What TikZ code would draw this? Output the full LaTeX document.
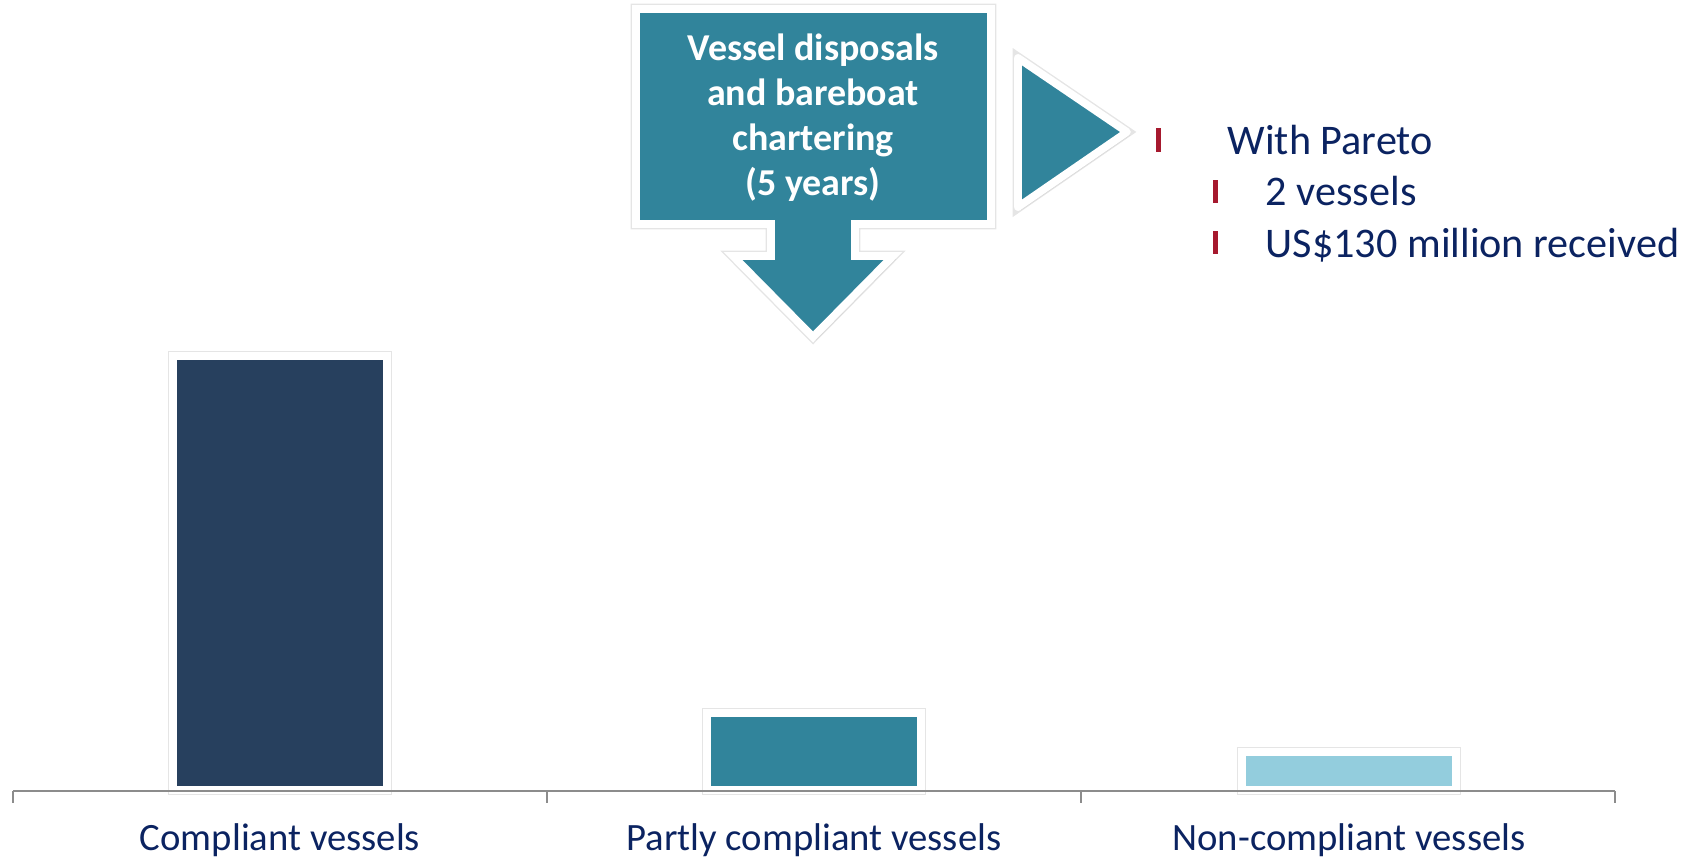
\documentclass[tikz,border=0pt]{standalone}
\usepackage{fontspec}
\setmainfont{Carlito}
\usetikzlibrary{shadows}

\definecolor{navytext}{HTML}{0B2361}
\definecolor{darkbar}{HTML}{27405E}
\definecolor{tealbar}{HTML}{31849B}
\definecolor{lightbar}{HTML}{93CDDD}
\definecolor{bulletred}{HTML}{A6192E}
\definecolor{axisgray}{HTML}{8C8C8C}

\tikzset{
  framed/.style={draw=white, line width=2.2pt, line join=miter,
    preaction={draw=black!10, line width=3pt},
    drop shadow={shadow xshift=0.9pt, shadow yshift=-0.9pt, opacity=0.15}},
  callouttext/.style={text=white, align=center,
    font=\fontsize{10.8}{12.8}\selectfont\bfseries},
  bullettext/.style={anchor=base west, text=navytext, inner sep=0pt,
    font=\fontsize{12}{14}\selectfont},
  catlabel/.style={anchor=base, text=navytext, inner sep=0pt,
    font=\fontsize{11}{13}\selectfont},
}

\begin{document}
\begin{tikzpicture}[x=0.01cm, y=-0.01cm]
  \useasboundingbox (0,0) rectangle (1700,858);

  % bars
  \filldraw[framed, fill=darkbar]  (173,356) rectangle (387,790);
  \filldraw[framed, fill=tealbar]  (707,713) rectangle (921,790);
  \filldraw[framed, fill=lightbar] (1242,752) rectangle (1456,790);

  % category axis
  \draw[axisgray, line width=0.6pt] (13,791) -- (1615,791);
  \foreach \x in {13,547,1081,1615}
    \draw[axisgray, line width=0.6pt] (\x,791) -- (\x,803);
  \node[catlabel] (compliant) at (280,850) {Compliant vessels};
  \node[catlabel] (partly) at (814,850) {Partly compliant vessels};
  \node[catlabel] (noncompliant) at (1349,850) {Non-compliant vessels};

  % callout with down arrow
  \filldraw[framed, fill=tealbar] (636,9) -- (991,9) -- (991,224) -- (855,224)
    -- (855,256) -- (893,256) -- (813,337) -- (733,256) -- (771,256)
    -- (771,224) -- (636,224) -- cycle;
  \node[callouttext] (disposals) at (813,118)
    {Vessel disposals\\and bareboat\\chartering\\(5 years)};

  % pointer triangle
  \filldraw[framed, fill=tealbar, line join=round] (1018,58) -- (1127,132) -- (1018,207) -- cycle;

  % bullets
  \node[bullettext] (pareto) at (1227,155) {With Pareto};
  \node[bullettext] (vessels) at (1265,206) {2 vessels};
  \node[bullettext] (received) at (1265,258) {US\$130 million received};
  \fill[bulletred] (1156,128) rectangle (1161,152);
  \fill[bulletred] (1213,180) rectangle (1218,203);
  \fill[bulletred] (1213,231) rectangle (1218,254);
\end{tikzpicture}
\end{document}
